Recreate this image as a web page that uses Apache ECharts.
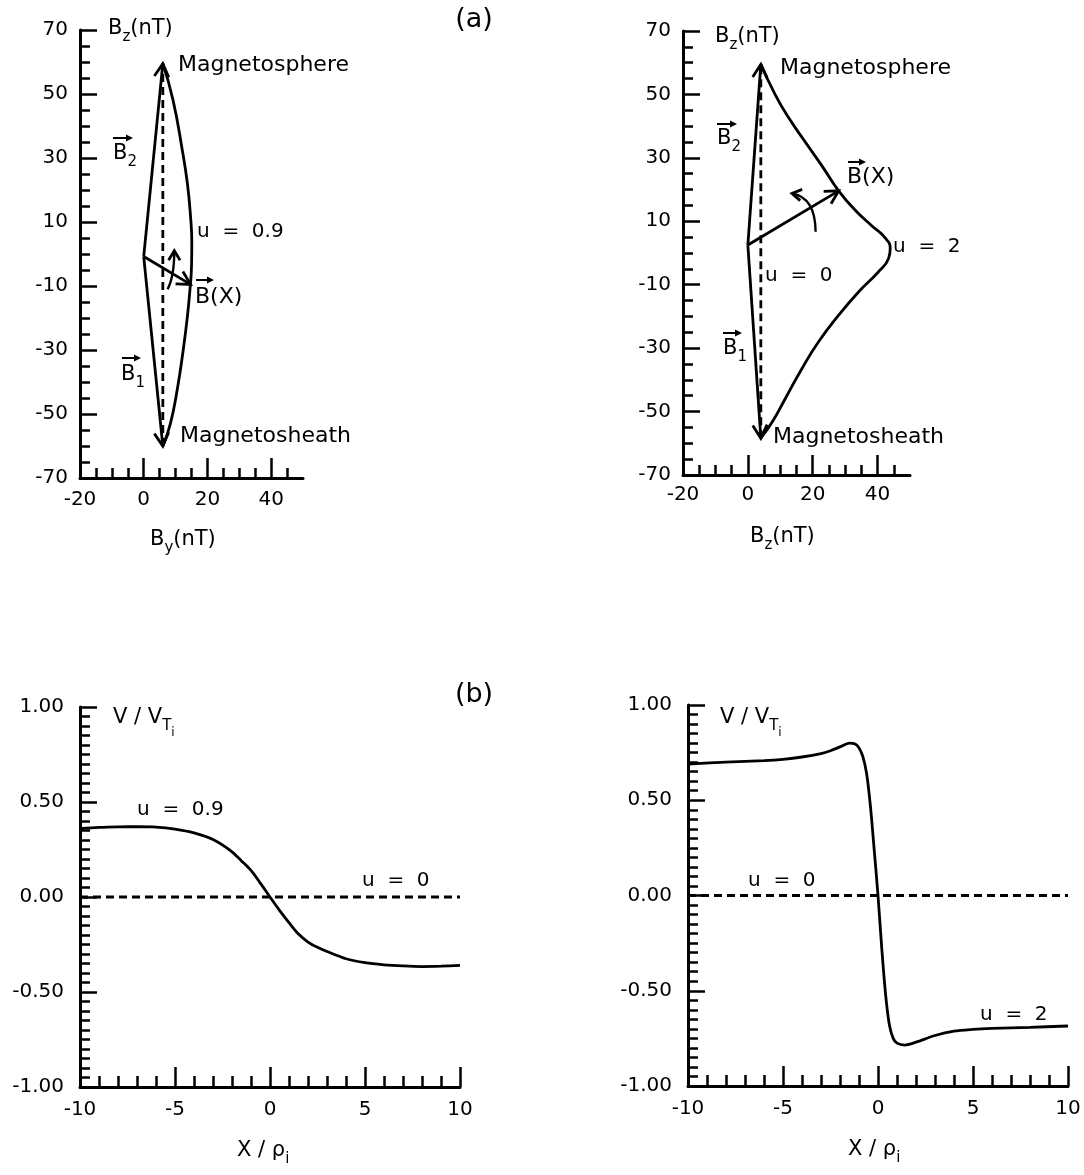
<!DOCTYPE html>
<html>
<head>
<meta charset="utf-8">
<title>Hodographs and velocity profiles</title>
<script src="https://cdn.jsdelivr.net/npm/echarts@6/dist/echarts.min.js"></script>
<style>
    html, body { margin: 0; padding: 0; background: #fff; }
    #chart { width: 1084px; height: 1175px; }
</style>
</head>
<body>
<div id="chart"></div>
<script>
const FONT = 'DejaVu Sans';
const INK = '#000';

// ---- (a) hodographs, nT ----
// left panel, u = 0.9
const hodo09By = [6, 9.2, 12.1, 13.7, 14.7, 15.1, 15.0, 14.5, 13.7, 12.4, 10.5, 8.4, 6];
const hodo09Bz = [59.5, 48.1, 32.5, 22.1, 11.7, 3.3, -4.0, -11.3, -19.6, -30, -42.5, -52.9, -60];
// u = 0 is the straight line between the two asymptotic fields
const hodo0LeftBy = [6, 6];
const hodo0LeftBz = [-60, 59.5];
// right panel, u = 2
const hodo2By = [4, 8.5, 12.8, 17.7, 22.9, 28.0, 33.2, 38.2, 42.2, 43.9, 43.4, 40.3, 34.2, 28.0, 21.8, 16.7, 11.6, 7.8, 4];
const hodo2Bz = [59.5, 49.8, 42.3, 35.0, 27.4, 19.6, 13.4, 8.6, 4.9, 1.5, -1.7, -5.9, -12.2, -19.6, -28.0, -36.4, -45.8, -52.8, -58.4];
const hodo0RightBy = [4, 4];
const hodo0RightBz = [-58.4, 59.5];

// field vectors B2, B1, B(X): [fromX, fromY, toX, toY]
const vectorsLeft = [[0, -0.8, 6, 59.5], [0, -0.8, 6, -60], [0, -0.8, 14.7, -9.5]];
const vectorsRight = [[0, 2.5, 4, 59.5], [0, 2.5, 4, -58.4], [0, 2.5, 28.0, 19.6]];
// rotation arrows: [fromX, fromY, ctrlX, ctrlY, toX, toY]
const turnLeft = [[7.5, -11, 9.6, -7, 9.6, 1]];
const turnRight = [[20.9, 6.7, 20.8, 17.5, 13.6, 18.8]];

// ---- (b) velocity profiles V/V_Ti against X/rho_i ----
const xU09 = [-10, -9, -8, -7, -6, -5, -4, -3, -2, -1.5, -1, -0.5, 0, 0.5, 1, 1.5, 2, 2.5, 3, 4, 5, 6, 7, 8, 9, 10];
const vU09 = [0.36, 0.366, 0.369, 0.37, 0.368, 0.357, 0.337, 0.302, 0.238, 0.19, 0.14, 0.072, 0, -0.07, -0.135, -0.195, -0.237, -0.265, -0.287, -0.325, -0.346, -0.357, -0.363, -0.366, -0.364, -0.36];
const xU2 = [-10, -8, -6, -5, -4, -3, -2.5, -2, -1.5, -1.2, -1, -0.8, -0.6, -0.4, -0.2, 0, 0.2, 0.4, 0.6, 0.8, 1, 1.4, 2, 3, 4, 5, 6, 8, 10];
const vU2 = [0.69, 0.70, 0.708, 0.715, 0.727, 0.745, 0.76, 0.78, 0.80, 0.795, 0.775, 0.73, 0.64, 0.47, 0.24, 0, -0.28, -0.52, -0.68, -0.75, -0.775, -0.785, -0.77, -0.735, -0.712, -0.703, -0.698, -0.692, -0.685];
const xU0 = [-10, 10];
const vU0 = [0, 0];

// tick labels
const byTicks = [-20, 0, 20, 40];
const bzTicks = [70, 50, 30, 10, -10, -30, -50, -70];
const xTicks = [-10, -5, 0, 5, 10];
const vTicks = [1, 0.5, 0, -0.5, -1];

function valueAxis(o) {
    return {
        type: 'value',
        gridIndex: o.grid,
        min: o.min,
        max: o.max,
        interval: o.interval,
        axisLine: { show: true, onZero: false, lineStyle: { color: INK, width: 3 } },
        axisTick: { show: true, inside: true, length: o.major, customValues: o.ticks, lineStyle: { color: INK, width: 2.5 } },
        minorTick: { show: true, splitNumber: o.minor, length: o.minorLen, lineStyle: { color: INK, width: 2.5 } },
        splitLine: { show: false },
        minorSplitLine: { show: false },
        axisLabel: {
            show: true, customValues: o.ticks, margin: o.margin, color: INK,
            fontFamily: FONT, fontSize: 20, formatter: o.fmt
        }
    };
}

function curve(idx, xs, ys, dash, smooth) {
    return {
        type: 'line', xAxisIndex: idx, yAxisIndex: idx,
        data: xs.map((x, i) => [x, ys[i]]),
        showSymbol: false, symbol: 'none', smooth: smooth, clip: false, silent: true,
        lineStyle: { color: INK, width: 2.8, type: dash }
    };
}

function arrowHead(from, tip, len, half) {
    const ang = Math.atan2(tip[1] - from[1], tip[0] - from[0]);
    const p1 = [tip[0] - len * Math.cos(ang - half), tip[1] - len * Math.sin(ang - half)];
    const p2 = [tip[0] - len * Math.cos(ang + half), tip[1] - len * Math.sin(ang + half)];
    return { type: 'polyline', shape: { points: [p1, tip, p2] }, style: { stroke: INK, lineWidth: 2.8, fill: null } };
}

function vectorSeries(idx, items) {
    return {
        type: 'custom', xAxisIndex: idx, yAxisIndex: idx, data: items, clip: false, silent: true,
        renderItem: (params, api) => {
            const a = api.coord([api.value(0), api.value(1)]);
            const b = api.coord([api.value(2), api.value(3)]);
            return {
                type: 'group',
                children: [
                    { type: 'line', shape: { x1: a[0], y1: a[1], x2: b[0], y2: b[1] }, style: { stroke: INK, lineWidth: 2.8 } },
                    arrowHead(a, b, 15, 0.5)
                ]
            };
        }
    };
}

function turnSeries(idx, items) {
    return {
        type: 'custom', xAxisIndex: idx, yAxisIndex: idx, data: items, clip: false, silent: true,
        renderItem: (params, api) => {
            const a = api.coord([api.value(0), api.value(1)]);
            const c = api.coord([api.value(2), api.value(3)]);
            const b = api.coord([api.value(4), api.value(5)]);
            return {
                type: 'group',
                children: [
                    { type: 'bezierCurve', shape: { x1: a[0], y1: a[1], cpx1: c[0], cpy1: c[1], x2: b[0], y2: b[1] }, style: { stroke: INK, lineWidth: 2.4, fill: null } },
                    arrowHead(c, b, 11, 0.55)
                ]
            };
        }
    };
}

// annotation text
const RICH = {
    n: { fontSize: 21, fontFamily: FONT, lineHeight: 26, verticalAlign: 'top', fill: INK },
    s: { fontSize: 15, fontFamily: FONT, lineHeight: 16, padding: [12, 0, 0, 0], verticalAlign: 'top', fill: INK },
    ss: { fontSize: 12, fontFamily: FONT, lineHeight: 12, padding: [20, 0, 0, 0], verticalAlign: 'top', fill: INK }
};

function plain(x, y, text, size, align) {
    return {
        type: 'text', x: x, y: y, silent: true,
        style: { text: text, fill: INK, font: size + 'px "' + FONT + '"', align: align || 'left', verticalAlign: 'middle' }
    };
}

function rich(x, yMid, text) {
    return {
        type: 'text', x: x, y: yMid - 13, silent: true,
        style: { text: text, rich: RICH, fill: INK, align: 'left', verticalAlign: 'top' }
    };
}

function overArrow(x, y, w) {
    return [
        { type: 'polyline', silent: true, shape: { points: [[x, y], [x + w - 3, y]] }, style: { stroke: INK, lineWidth: 2 } },
        { type: 'polygon', silent: true, shape: { points: [[x + w - 7, y - 3.5], [x + w, y], [x + w - 7, y + 3.5]] }, style: { fill: INK } }
    ];
}

const annotations = [].concat(
    plain(474, 20, '(a)', 27, 'center'),
    plain(474, 695, '(b)', 27, 'center'),
    // top left
    rich(108, 31, '{n|B}{s|z}{n|(nT)}'),
    plain(178, 65, 'Magnetosphere', 22),
    rich(113, 156, '{n|B}{s|2}'), overArrow(113, 138, 20),
    plain(197, 232, 'u  =  0.9', 20),
    plain(195, 297, 'B(X)', 22), overArrow(196, 280, 18),
    rich(121, 377, '{n|B}{s|1}'), overArrow(122, 358, 19),
    plain(180, 436, 'Magnetosheath', 22),
    rich(150, 542, '{n|B}{s|y}{n|(nT)}'),
    // top right
    rich(715, 39, '{n|B}{s|z}{n|(nT)}'),
    plain(780, 68, 'Magnetosphere', 22),
    rich(717, 141, '{n|B}{s|2}'), overArrow(717, 124, 20),
    plain(847, 177, 'B(X)', 22), overArrow(848, 162, 18),
    plain(893, 247, 'u  =  2', 20),
    plain(765, 276, 'u  =  0', 20),
    rich(723, 351, '{n|B}{s|1}'), overArrow(723, 333, 19),
    plain(773, 437, 'Magnetosheath', 22),
    rich(750, 539, '{n|B}{s|z}{n|(nT)}'),
    // bottom left
    rich(113, 720, '{n|V / V}{s|T}{ss|i}'),
    plain(137, 810, 'u  =  0.9', 20),
    plain(362, 881, 'u  =  0', 20),
    rich(237, 1153, '{n|X / ρ}{s|i}'),
    // bottom right
    rich(720, 720, '{n|V / V}{s|T}{ss|i}'),
    plain(748, 881, 'u  =  0', 20),
    plain(980, 1015, 'u  =  2', 20),
    rich(848, 1152, '{n|X / ρ}{s|i}')
);

const chart = echarts.init(document.getElementById('chart'), null, { renderer: 'canvas' });
chart.setOption({
    backgroundColor: '#fff',
    animation: false,
    grid: [
        { left: 80, top: 30, width: 223, height: 448 },
        { left: 683, top: 31, width: 227, height: 444 },
        { left: 80, top: 707, width: 380, height: 380 },
        { left: 688, top: 705, width: 380, height: 381 }
    ],
    xAxis: [
        valueAxis({ grid: 0, min: -20, max: 50, interval: 20, ticks: byTicks, major: 20, minor: 4, minorLen: 10, margin: 12 }),
        valueAxis({ grid: 1, min: -20, max: 50, interval: 20, ticks: byTicks, major: 20, minor: 4, minorLen: 10, margin: 10 }),
        valueAxis({ grid: 2, min: -10, max: 10, interval: 5, ticks: xTicks, major: 20, minor: 5, minorLen: 11, margin: 13 }),
        valueAxis({ grid: 3, min: -10, max: 10, interval: 5, ticks: xTicks, major: 20, minor: 5, minorLen: 11, margin: 13 })
    ],
    yAxis: [
        valueAxis({ grid: 0, min: -70, max: 70, interval: 20, ticks: bzTicks, major: 17, minor: 4, minorLen: 10, margin: 12 }),
        valueAxis({ grid: 1, min: -70, max: 70, interval: 20, ticks: bzTicks, major: 17, minor: 4, minorLen: 10, margin: 12 }),
        valueAxis({ grid: 2, min: -1, max: 1, interval: 0.5, ticks: vTicks, major: 17, minor: 10, minorLen: 10, margin: 16, fmt: v => v.toFixed(2) }),
        valueAxis({ grid: 3, min: -1, max: 1, interval: 0.5, ticks: vTicks, major: 17, minor: 10, minorLen: 10, margin: 16, fmt: v => v.toFixed(2) })
    ],
    series: [
        curve(0, hodo09By, hodo09Bz, 'solid', 0.5),
        curve(0, hodo0LeftBy, hodo0LeftBz, [8, 5], false),
        vectorSeries(0, vectorsLeft),
        turnSeries(0, turnLeft),
        curve(1, hodo2By, hodo2Bz, 'solid', 0.5),
        curve(1, hodo0RightBy, hodo0RightBz, [8, 5], false),
        vectorSeries(1, vectorsRight),
        turnSeries(1, turnRight),
        curve(2, xU09, vU09, 'solid', 0.3),
        curve(2, xU0, vU0, [8, 5], false),
        curve(3, xU2, vU2, 'solid', 0.3),
        curve(3, xU0, vU0, [8, 5], false)
    ],
    graphic: annotations
});
</script>
</body>
</html>
